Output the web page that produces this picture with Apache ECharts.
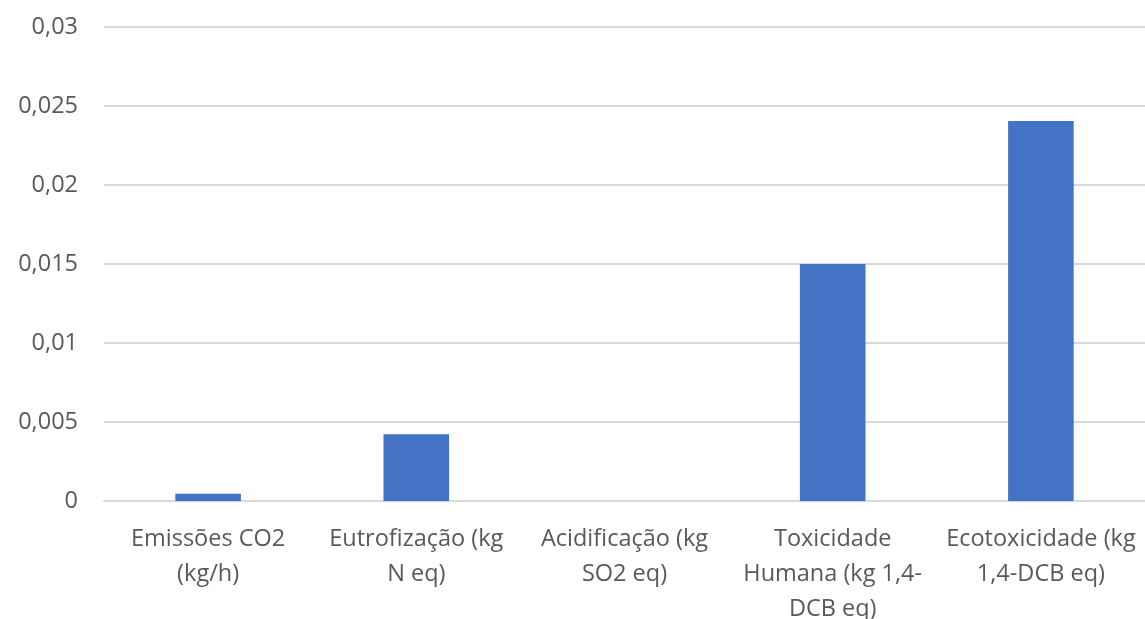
<!DOCTYPE html>
<html><head><meta charset="utf-8">
<script src="https://cdn.jsdelivr.net/npm/echarts@6/dist/echarts.min.js"></script>
<style>html,body{margin:0;padding:0;background:#fff}#c{width:1145px;height:619px}</style>
</head><body><div id="c"></div>
<script>
const categories = [
  'Emissões CO2\n(kg/h)',
  'Eutrofização (kg\nN eq)',
  'Acidificação (kg\nSO2 eq)',
  'Toxicidade\nHumana (kg 1,4-\nDCB eq)',
  'Ecotoxicidade (kg\n1,4-DCB eq)'
];
const values = [0.00046, 0.00422, 0, 0.015, 0.02405];
const yMin = 0, yMax = 0.03, yStep = 0.005;

const chart = echarts.init(document.getElementById('c'), null, {renderer: 'canvas'});
const font = '"Open Sans", "Liberation Sans", sans-serif';
chart.setOption({
  animation: false,
  grid: {left: 104, right: 0, top: 27, bottom: 118, containLabel: false, outerBoundsMode: 'none'},
  xAxis: {
    type: 'category', data: categories,
    axisLine: {show: true, lineStyle: {color: '#d9d9d9', width: 2}},
    axisTick: {show: false},
    axisLabel: {color: '#595959', fontSize: 23.5, fontFamily: font, lineHeight: 35, margin: 21, interval: 0}
  },
  yAxis: {
    type: 'value', min: yMin, max: yMax, interval: yStep,
    axisLine: {show: false}, axisTick: {show: false},
    splitLine: {lineStyle: {color: '#d9d9d9', width: 2}},
    axisLabel: {color: '#595959', fontSize: 23.5, fontFamily: font, margin: 26,
      formatter: v => Number(v.toFixed(4)).toString().replace('.', ',')}
  },
  series: [{
    type: 'bar', data: values, barWidth: '31.5%',
    itemStyle: {color: '#4472c4'}
  }]
});
</script></body></html>
